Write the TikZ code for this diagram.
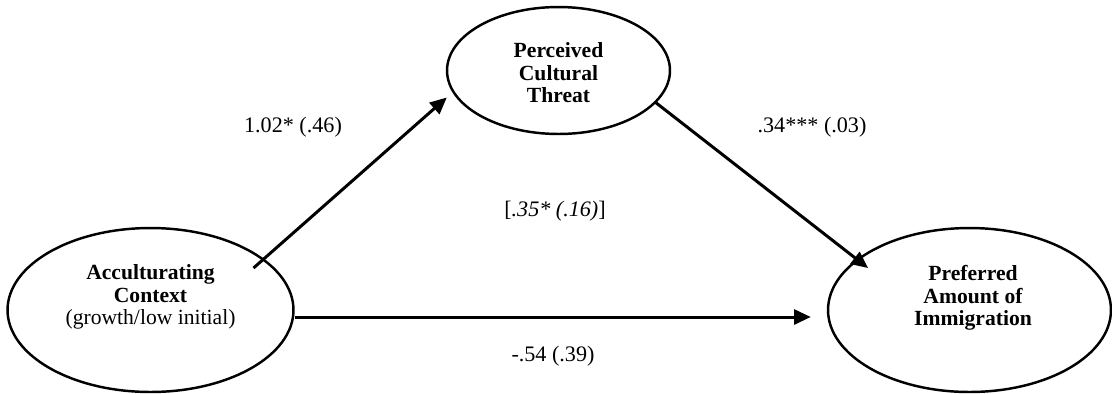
\documentclass[tikz,border=0pt]{standalone}
\usepackage{fontspec}
\setmainfont{Liberation Serif}
\usetikzlibrary{arrows.meta,shapes.geometric,calc}
\tikzset{
  latent/.style={draw, ellipse, line width=1.4pt, inner sep=0pt},
  vname/.style={font=\bfseries\fontsize{12.3}{12.8}\selectfont, align=center},
  coef/.style={font=\fontsize{12.6}{14}\selectfont},
  effect/.style={-{Triangle[length=9.5pt,width=8.5pt]}, line width=1.7pt},
}

\begin{document}
\begin{tikzpicture}[x=0.02cm, y=-0.02cm]
  \useasboundingbox (0,0) rectangle (1112,393);

  % Ellipses
  \node[latent, minimum width=5.72cm, minimum height=3.28cm] (ctx) at (150.5,310) {};
  \node[latent, minimum width=4.46cm, minimum height=2.54cm] (threat) at (558.5,70.5) {};
  \node[latent, minimum width=5.66cm, minimum height=3.28cm] (pref) at (969.5,310) {};

  % Names inside ellipses
  \node[vname] (ctxname) at (150.5,297) {Acculturating\\Context\\\mdseries(growth/low initial)};
  \node[vname] (threatname) at (558.5,73) {Perceived\\Cultural\\Threat};
  \node[vname] (prefname) at (973,298) {Preferred\\Amount of\\Immigration};

  % Arrow end points
  \coordinate (aS) at ($(ctx.center)+(103,-42)$);
  \coordinate (aE) at ($(threat.west)+(1,27)$);
  \coordinate (bS) at ($(threat.center)+(96.5,31.5)$);
  \coordinate (bE) at ($(pref.center)+(-101.5,-42)$);
  \coordinate (cS) at ($(ctx.east)+(0,7)$);
  \coordinate (cE) at ($(pref.west)+(-16,7)$);

  \draw[effect] (aS) -- (aE);
  \draw[effect] (bS) -- (bE);
  \draw[effect] (cS) -- (cE);

  % Coefficients
  \node[coef] (acoef) at (293,127) {1.02* (.46)};
  \node[coef] (bcoef) at (812,127) {.34*** (.03)};
  \node[coef] (indcoef) at (555,211) {[\textit{.35* (.16)}]};
  \node[coef] (ccoef) at (553,356) {-.54 (.39)};
\end{tikzpicture}
\end{document}
